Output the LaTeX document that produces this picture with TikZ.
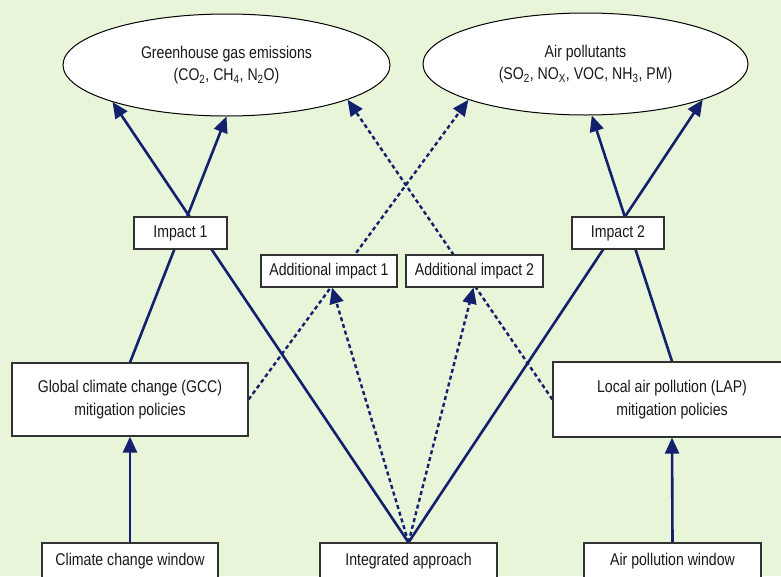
\documentclass[tikz,border=0pt]{standalone}
\usepackage{fontspec}
\setmainfont{Liberation Sans}[FakeStretch=0.83]
\usetikzlibrary{shapes.geometric,arrows.meta}
\pgfdeclarelayer{bg}
\pgfdeclarelayer{lines}
\pgfsetlayers{bg,lines,main}
\definecolor{bgc}{RGB}{233,245,216}
\definecolor{navy}{RGB}{18,32,110}
\definecolor{boxline}{RGB}{50,50,50}
\definecolor{txt}{RGB}{25,25,25}
\begin{document}
\begin{tikzpicture}[x=1pt,y=-1pt,
  every node/.style={font=\fontsize{17}{22.5}\selectfont, text=txt},
  oval/.style={ellipse, draw=black, line width=1pt, fill=white, inner sep=0pt, align=center},
  box/.style={rectangle, draw=boxline, line width=1.2pt, fill=white, inner sep=0pt, align=center},
  link/.style={draw=navy, line width=2.6pt},
  tiplink/.style={link, -{Triangle[length=16pt,width=14pt]}},
  dotlink/.style={draw=navy, line width=2.4pt, dash pattern=on 4pt off 3pt, -{Triangle[length=16pt,width=14pt]}}]

\useasboundingbox (0,0) rectangle (781,576);
\begin{pgfonlayer}{bg}
  \fill[bgc] (0,0) rectangle (781,576);
\end{pgfonlayer}

% ellipses
\node[oval, minimum width=327pt, minimum height=102pt] (ghg) at (226.5,65)
  {Greenhouse gas emissions\\(CO\textsubscript{2}, CH\textsubscript{4}, N\textsubscript{2}O)};
\node[oval, minimum width=325pt, minimum height=102pt] (ap) at (585.5,64)
  {Air pollutants\\(SO\textsubscript{2}, NO\textsubscript{X}, VOC, NH\textsubscript{3}, PM)};

% impact boxes
\node[box, minimum width=93pt, minimum height=32pt] (imp1) at (180.5,233) {Impact 1};
\node[box, minimum width=92pt, minimum height=32pt] (imp2) at (618,233) {Impact 2};
\node[box, minimum width=136pt, minimum height=32pt] (add1) at (329,271) {Additional impact 1};
\node[box, minimum width=137pt, minimum height=32pt] (add2) at (474.5,271) {Additional impact 2};

% policy boxes
\node[box, minimum width=236pt, minimum height=73pt] (gcc) at (130,399.5)
  {Global climate change (GCC)\\mitigation policies};
\node[box, minimum width=238pt, minimum height=75pt] (lap) at (672,399.5)
  {Local air pollution (LAP)\\mitigation policies};

% bottom boxes
\node[box, minimum width=176pt, minimum height=36pt] (ccw) at (130,561) {Climate change window};
\node[box, minimum width=177pt, minimum height=36pt] (int) at (408.5,561) {Integrated approach};
\node[box, minimum width=177pt, minimum height=36pt] (apw) at (672.5,561) {Air pollution window};

\begin{pgfonlayer}{lines}
  \draw[tiplink] (ccw.north) -- (gcc.south);
  \draw[tiplink] (apw.north) -- (lap.south);
  \draw[tiplink] (gcc.north) -- (ghg.south);
  \draw[tiplink] (int.north) -- (ghg.198);
  \draw[tiplink] (int.north) -- (ap.343);
  \draw[tiplink] (lap.north) -- (ap.277);
  \draw[dotlink] (gcc.east) -- (ap.197);
  \draw[dotlink] (lap.west) -- (ghg.344);
  \draw[dotlink] (int.north) -- ([xshift=3pt]add1.south);
  \draw[dotlink] (int.north) -- ([xshift=-1pt]add2.south);
\end{pgfonlayer}
\end{tikzpicture}
\end{document}
